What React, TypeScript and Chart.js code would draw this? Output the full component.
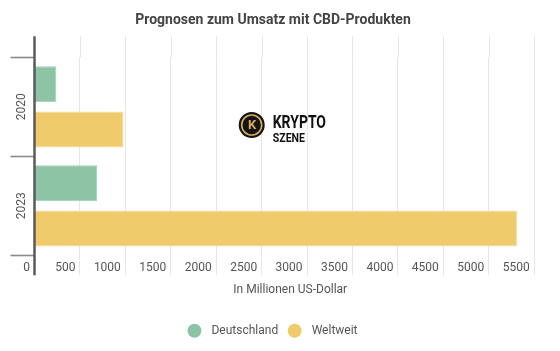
import React, { useEffect, useRef } from "react";
import { Chart, registerables } from "chart.js";

Chart.register(...registerables);

const categories = ["2020", "2023"];
const seriesNames = ["Deutschland", "Weltweit"];
const deutschland = [240, 690];
const weltweit = [980, 5310];
const xTicks = [0, 500, 1000, 1500, 2000, 2500, 3000, 3500, 4000, 4500, 5000, 5500];
const xMax = 5630;
const colors = ["#8dc4a6", "#efcb6c"];
const borderColors = ["#9fd0b5", "#f5d98f"];
const titleText = "Prognosen zum Umsatz mit CBD-Produkten";
const xTitle = "In Millionen US-Dollar";
const logoTop = "KRYPTO";
const logoBottom = "SZENE";

const FONT = "Roboto, 'Noto Sans', sans-serif";

export default function App() {
  const ref = useRef<HTMLCanvasElement | null>(null);
  useEffect(() => {
    document.body.style.margin = "0";
    const canvas = ref.current!;
    const extras = {
      id: "extras",
      afterDraw(chart: any) {
        const ctx = chart.ctx as CanvasRenderingContext2D;
        const ca = chart.chartArea;
        const xs = chart.scales.x;
        const ys = chart.scales.y;
        ctx.save();
        // grid extension above chart area
        ctx.strokeStyle = "#e6e6e6";
        ctx.lineWidth = 1;
        xs.ticks.forEach((t: any) => {
          if (t.value === 0) return;
          const px = Math.round(xs.getPixelForValue(t.value)) + 0.5;
          ctx.beginPath();
          ctx.moveTo(px, ca.top - 21);
          ctx.lineTo(px, ca.top);
          ctx.stroke();
        });
        // dark axis line
        ctx.strokeStyle = "#5a5a5a";
        ctx.lineWidth = 2.5;
        ctx.beginPath();
        ctx.moveTo(ca.left, ca.top - 21);
        ctx.lineTo(ca.left, ca.bottom + 20);
        ctx.stroke();
        // y labels rotated
        ctx.fillStyle = "#555";
        ctx.font = "12px " + FONT;
        ctx.textAlign = "center";
        ctx.textBaseline = "middle";
        categories.forEach((c, i) => {
          const py = ys.getPixelForValue(i);
          ctx.save();
          ctx.translate(22, py);
          ctx.rotate(-Math.PI / 2);
          ctx.fillText(c, 0, 0);
          ctx.restore();
        });
        // legend
        ctx.font = "12px " + FONT;
        ctx.textAlign = "left";
        const r = 7;
        const gapText = 10;
        const gapItem = 9.5;
        const widths = seriesNames.map((n) => ctx.measureText(n).width);
        const total = widths.reduce((a, w) => a + 2 * r + gapText + w, 0) + gapItem * (seriesNames.length - 1);
        let lx = 272.5 - total / 2;
        const ly = 330.7;
        seriesNames.forEach((n, i) => {
          ctx.fillStyle = colors[i];
          ctx.beginPath();
          ctx.arc(lx + r, ly, r, 0, Math.PI * 2);
          ctx.fill();
          ctx.fillStyle = "#555";
          ctx.fillText(n, lx + 2 * r + gapText, ly + 0.5);
          lx += 2 * r + gapText + widths[i] + gapItem;
        });
        // logo
        const cx = 251.7, cy = 125;
        ctx.fillStyle = "#141414";
        ctx.beginPath();
        ctx.arc(cx, cy, 13, 0, Math.PI * 2);
        ctx.fill();
        ctx.strokeStyle = "#d9ab5c";
        ctx.lineWidth = 1.6;
        ctx.beginPath();
        ctx.arc(cx, cy, 10, 0, Math.PI * 2);
        ctx.stroke();
        ctx.fillStyle = "#d9ab5c";
        ctx.font = "bold 13px " + FONT;
        ctx.textAlign = "center";
        ctx.textBaseline = "middle";
        ctx.fillText("K", cx + 0.5, cy + 0.5);
        ctx.fillStyle = "#111";
        ctx.textAlign = "left";
        ctx.textBaseline = "alphabetic";
        ctx.font = "bold 18px " + FONT;
        let w = ctx.measureText(logoTop).width;
        ctx.save();
        ctx.translate(272.7, 127.7);
        ctx.scale(53.3 / w, 1);
        ctx.fillText(logoTop, 0, 0);
        ctx.restore();
        ctx.font = "bold 13.2px " + FONT;
        w = ctx.measureText(logoBottom).width;
        ctx.save();
        ctx.translate(272.7, 141.7);
        ctx.scale(32.3 / w, 1);
        ctx.fillText(logoBottom, 0, 0);
        ctx.restore();
        ctx.restore();
      },
    };
    const chart = new Chart(canvas, {
      type: "bar",
      data: {
        labels: categories,
        datasets: [
          {
            label: seriesNames[0],
            data: deutschland,
            backgroundColor: colors[0],
            borderColor: borderColors[0],
            borderWidth: 1,
            categoryPercentage: 0.915,
            barPercentage: 0.795,
          },
          {
            label: seriesNames[1],
            data: weltweit,
            backgroundColor: colors[1],
            borderColor: borderColors[1],
            borderWidth: 1,
            categoryPercentage: 0.915,
            barPercentage: 0.795,
          },
        ],
      },
      options: {
        indexAxis: "y",
        animation: false,
        responsive: false,
        maintainAspectRatio: false,
        layout: { padding: { left: 0, right: 14, top: 0, bottom: 50.1 } },
        plugins: {
          legend: { display: false },
          tooltip: { enabled: false },
          title: {
            display: true,
            text: titleText,
            color: "#444",
            font: { family: FONT, size: 14, weight: "bold" },
            padding: { top: 12, bottom: 28.5 },
          },
        },
        scales: {
          x: {
            type: "linear",
            min: 0,
            max: xMax,
            afterBuildTicks: (scale: any) => {
              scale.ticks = xTicks.map((v) => ({ value: v }));
            },
            afterFit: (scale: any) => {
              scale.height = 45.6;
            },
            ticks: {
              align: "end",
              labelOffset: -4.5,
              padding: -15,
              color: "#555",
              font: { family: FONT, size: 12 },
              maxRotation: 0,
              minRotation: 0,
              autoSkip: false,
              callback: (v: any) => String(v),
            },
            grid: {
              color: "#e6e6e6",
              lineWidth: 1,
              tickLength: 20,
              tickColor: "#e6e6e6",
            },
            border: { display: false },
            title: {
              display: true,
              text: xTitle,
              color: "#555",
              font: { family: FONT, size: 12 },
              padding: { top: 0, bottom: 4 },
            },
          },
          y: {
            type: "category",
            afterFit: (scale: any) => {
              scale.width = 34.5;
            },
            ticks: { display: false },
            grid: {
              offset: true,
              drawOnChartArea: false,
              tickLength: 24,
              tickColor: "#8a8a8a",
              tickWidth: 1.6,
            },
            border: { display: false },
          },
        },
      },
      plugins: [extras],
    });
    return () => chart.destroy();
  }, []);
  return (
    <div style={{ position: "fixed", left: 0, top: 0, width: 560, height: 351, background: "#fff" }}>
      <canvas ref={ref} width={560} height={351} style={{ width: 560, height: 351, display: "block" }} />
    </div>
  );
}
